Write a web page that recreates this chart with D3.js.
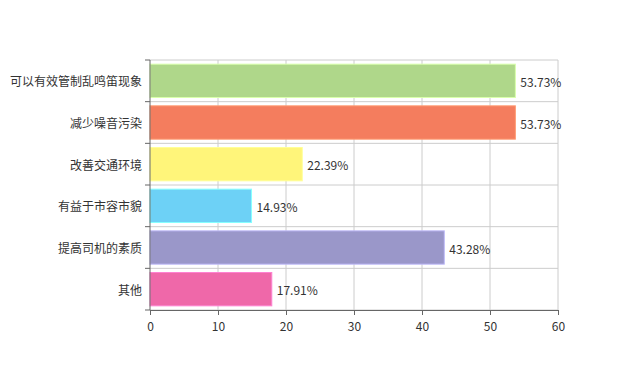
<!DOCTYPE html>
<html>
<head>
<meta charset="utf-8">
<script src="https://cdn.jsdelivr.net/npm/d3@7"></script>
<style>
  body { margin: 0; background: #fff; }
  text { font-family: "Noto Sans CJK SC", "Noto Sans", sans-serif; }
</style>
</head>
<body>
<div id="chart"></div>
<script>
const categories = ["可以有效管制乱鸣笛现象", "减少噪音污染", "改善交通环境", "有益于市容市貌", "提高司机的素质", "其他"];
const values = [53.73, 53.73, 22.39, 14.93, 43.28, 17.91];
const colors = ["#afd78a", "#f47d5e", "#fff57a", "#6dd1f6", "#9a97c9", "#ef68a9"];
const xTicks = [0, 10, 20, 30, 40, 50, 60];

const width = 620, height = 370;
const margin = { top: 60, right: 62, bottom: 60, left: 150 };

const svg = d3.select("#chart")
    .append("svg")
    .attr("width", width)
    .attr("height", height);

const x = d3.scaleLinear()
    .domain([0, 60])
    .range([margin.left, width - margin.right]);

const y = d3.scaleBand()
    .domain(categories)
    .range([margin.top, height - margin.bottom])
    .paddingInner(0.2)
    .paddingOuter(0.1);

// grid
const bandEdges = categories.map(c => y(c) - y.step() * y.paddingInner() / 2);
bandEdges.push(height - margin.bottom);

svg.append("g")
    .selectAll("line.v")
    .data(xTicks.slice(1))
    .enter().append("line")
    .attr("x1", d => x(d)).attr("x2", d => x(d))
    .attr("y1", margin.top).attr("y2", height - margin.bottom)
    .attr("stroke", "#ccc");

svg.append("g")
    .selectAll("line.h")
    .data(bandEdges)
    .enter().append("line")
    .attr("x1", margin.left).attr("x2", width - margin.right)
    .attr("y1", d => d).attr("y2", d => d)
    .attr("stroke", "#ccc");

// bars
svg.append("g")
    .selectAll("rect")
    .data(values)
    .enter().append("rect")
    .attr("x", x(0))
    .attr("y", (d, i) => y(categories[i]))
    .attr("width", d => x(d) - x(0))
    .attr("height", y.bandwidth())
    .attr("fill", (d, i) => colors[i])
    .attr("stroke", (d, i) => d3.color(colors[i]).brighter(0.6))
    .attr("stroke-width", 1);

// value labels
svg.append("g")
    .selectAll("text")
    .data(values)
    .enter().append("text")
    .attr("x", d => x(d) + 5)
    .attr("y", (d, i) => y(categories[i]) + y.bandwidth() / 2)
    .attr("dy", "0.5em")
    .attr("font-size", 12)
    .attr("fill", "#333")
    .text(d => d.toFixed(2) + "%");

// y axis
const yAxis = svg.append("g");
yAxis.append("line")
    .attr("x1", margin.left).attr("x2", margin.left)
    .attr("y1", margin.top).attr("y2", height - margin.bottom)
    .attr("stroke", "#666");
yAxis.selectAll("line.t")
    .data(bandEdges)
    .enter().append("line")
    .attr("x1", margin.left - 5).attr("x2", margin.left)
    .attr("y1", d => d).attr("y2", d => d)
    .attr("stroke", "#666");
yAxis.selectAll("text")
    .data(categories)
    .enter().append("text")
    .attr("x", margin.left - 8)
    .attr("y", d => y(d) + y.bandwidth() / 2)
    .attr("dy", "0.45em")
    .attr("text-anchor", "end")
    .attr("font-size", 12)
    .attr("fill", "#333")
    .text(d => d);

// x axis
const xAxis = svg.append("g")
    .attr("transform", `translate(0,${height - margin.bottom})`)
    .call(d3.axisBottom(x).tickValues(xTicks).tickSize(5).tickPadding(7));
xAxis.select(".domain").attr("stroke", "#666");
xAxis.selectAll(".tick line").attr("stroke", "#666");
xAxis.selectAll(".tick text")
    .attr("font-size", 12)
    .attr("fill", "#333")
    .style("font-family", "\"Noto Sans CJK SC\", sans-serif");
</script>
</body>
</html>
